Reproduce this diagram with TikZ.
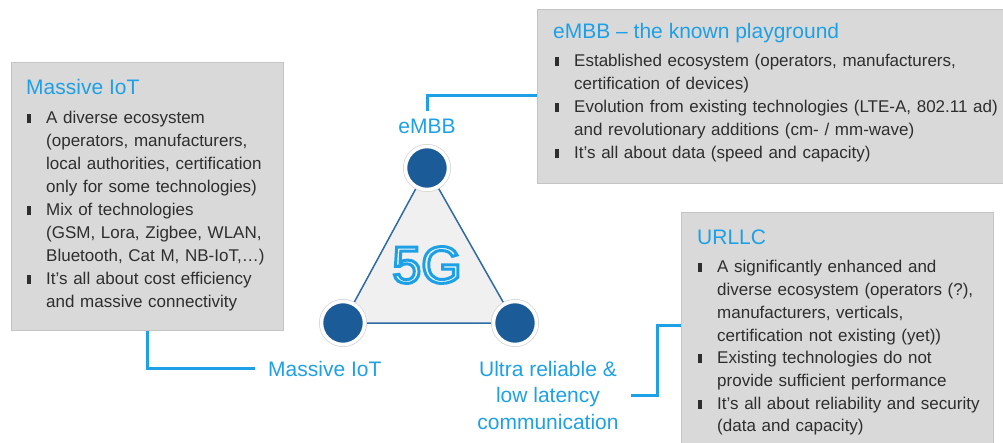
\documentclass[tikz,border=0pt]{standalone}
\usepackage{fontspec}
\setmainfont{Liberation Sans}
\usetikzlibrary{calc,backgrounds}
\definecolor{accent}{HTML}{1EA0E6}
\definecolor{cdark}{HTML}{1B5C98}
\definecolor{triedgec}{HTML}{2F6BA3}
\definecolor{trifillc}{HTML}{F0F0F0}
\definecolor{boxfill}{HTML}{D9D9D9}
\definecolor{boxline}{HTML}{C4C4C4}
\definecolor{bodytext}{HTML}{2E2E2E}
\definecolor{halogray}{HTML}{D4D4D4}
\definecolor{fivegfill}{HTML}{F2F9FE}
\newcommand{\bul}{\makebox[0pt][r]{\rule[0.5pt]{3.6pt}{9pt}\hspace{15.5pt}}}
\newcommand{\outlinedtext}[1]{\special{pdf:literal direct 2 Tr 3 w 0.118 0.627 0.902 RG 0.95 0.976 0.996 rg}#1\special{pdf:literal direct 0 Tr 0.3985 w}}
\tikzset{
  infobox/.style={draw=boxline, fill=boxfill, line width=0.8pt, anchor=north west, inner sep=0pt},
  boxtitle/.style={text=accent, font=\fontsize{21}{24}\selectfont, anchor=base west, inner sep=0pt},
  body/.style={text=bodytext, font=\fontsize{17}{23}\selectfont, anchor=base west, inner sep=0pt, text width=440pt, align=left},
  conn/.style={draw=accent, line width=3pt},
  lbl/.style={text=accent, font=\fontsize{21}{26.5}\selectfont, inner sep=0pt, align=center},
  dot/.style={circle, fill=cdark, draw=white, line width=3.5pt, minimum size=43pt, inner sep=0pt,
    preaction={draw=halogray, line width=5pt}},
  triedge/.style={draw=triedgec, line width=1.5pt},
}
\begin{document}
\begin{tikzpicture}[x=1pt,y=-1pt]
\useasboundingbox (0,0) rectangle (1003,443);
% boxes
\node[infobox, minimum width=272pt, minimum height=268pt] (mbox) at (11,62) {};
\node[infobox, minimum width=480pt, minimum height=174pt] (ebox) at (537,9) {};
\node[infobox, minimum width=312pt, minimum height=250pt] (ubox) at (681,212) {};
% massive IoT box text
\node[boxtitle] (mtitle) at (26,95) {Massive IoT};
\node[body] (mbody) at (46,124) {\bul A diverse ecosystem\\
(operators, manufacturers,\\
local authorities, certification\\
only for some technologies)\\
\bul Mix of technologies\\
(GSM, Lora, Zigbee, WLAN,\\
Bluetooth, Cat M, NB-IoT,\dots)\\
\bul It’s all about cost efficiency\\
and massive connectivity};
% eMBB box text
\node[boxtitle] (etitle) at (553,39) {eMBB -- the known playground};
\node[body] (ebody) at (574,67) {\bul Established ecosystem (operators, manufacturers,\\
certification of devices)\\
\bul Evolution from existing technologies (LTE-A, 802.11 ad)\\
and revolutionary additions (cm- / mm-wave)\\
\bul It’s all about data (speed and capacity)};
% URLLC box text
\node[boxtitle] (utitle) at (697,245) {URLLC};
\node[body, font=\fontsize{17}{22.7}\selectfont] (ubody) at (717,273) {\bul A significantly enhanced and\\
diverse ecosystem (operators (?),\\
manufacturers, verticals,\\
certification not existing (yet))\\
\bul Existing technologies do not\\
provide sufficient performance\\
\bul It’s all about reliability and security\\
(data and capacity)};
% triangle
\node[dot] (ctop) at (427,168) {};
\node[dot] (cbl) at (343,323) {};
\node[dot] (cbr) at (515,323) {};
\begin{scope}[on background layer]
\fill[trifillc] (ctop.center) -- (cbl.center) -- (cbr.center) -- cycle;
\draw[triedge] (ctop.center) -- (cbl.center) -- (cbr.center) -- cycle;
\end{scope}
\node[text=fivegfill, font=\fontsize{52}{52}\selectfont, inner sep=0pt] (fiveg) at (427,265) {\outlinedtext{5G}};
% labels
\node[lbl, anchor=base] (lembb) at (427,134) {eMBB};
\node[lbl, anchor=base west] (lmiot) at (268,376) {Massive IoT};
\node[lbl] (lurl) at (548,395) {Ultra reliable \&\\ low latency\\ communication};
% connectors
\draw[conn] ($(lembb.north)+(0,-8)$) |- (ebox.west |- 0,96);
\draw[conn] (mbox.south -| 147,0) |- ($(lmiot.west)+(-13,0)$);
\coordinate (ubend) at (657,325);
\draw[conn] ($(lurl.east)+(12,0)$) -| (ubend) -- (ubend -| ubox.west);
\end{tikzpicture}
\end{document}
